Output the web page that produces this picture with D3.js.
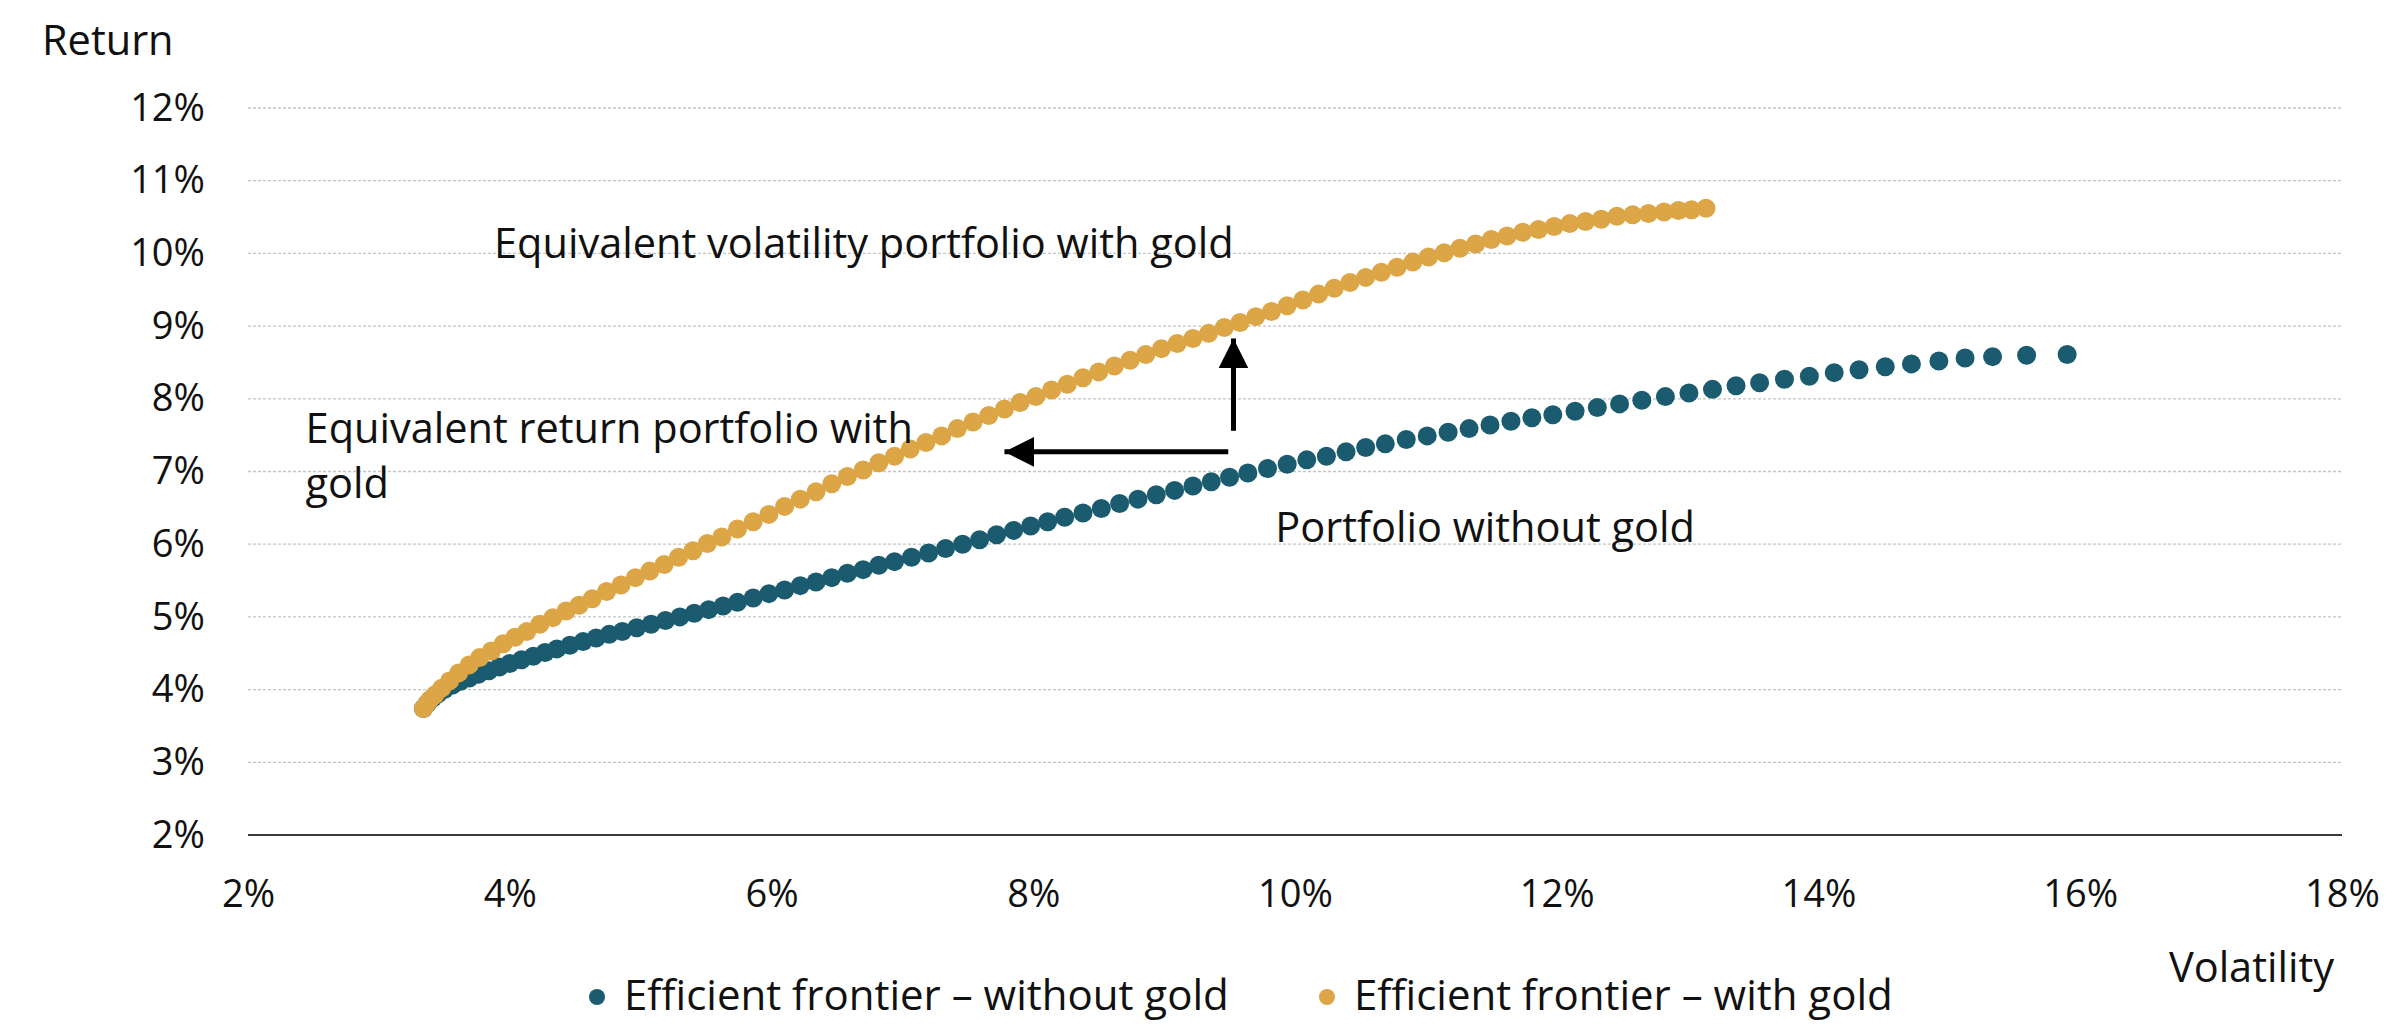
<!DOCTYPE html>
<html>
<head>
<meta charset="utf-8">
<script src="https://cdn.jsdelivr.net/npm/d3@7"></script>
<style>
  html, body { margin: 0; padding: 0; background: #ffffff; }
  svg { display: block; }
  text { font-family: "Open Sans", "Noto Sans", sans-serif; fill: #111; }
</style>
</head>
<body>
<svg id="chart" width="2387" height="1025"></svg>
<script>
// ---------------- DATA ----------------
const yTicks = [2, 3, 4, 5, 6, 7, 8, 9, 10, 11, 12];
const xTicks = [2, 4, 6, 8, 10, 12, 14, 16, 18];

const seriesNames = ["Efficient frontier \u2013 without gold", "Efficient frontier \u2013 with gold"];

// Efficient frontier without gold (volatility %, return %)
const volWithout = [3.34,3.37,3.41,3.45,3.50,3.56,3.62,3.69,3.76,3.84,3.92,4.00,4.09,4.18,4.27,4.36,4.46,4.56,4.66,4.76,4.86,4.97,5.08,5.19,5.30,5.41,5.52,5.63,5.74,5.86,5.98,6.10,6.22,6.34,6.46,6.58,6.70,6.82,6.94,7.07,7.20,7.33,7.46,7.59,7.72,7.85,7.98,8.11,8.24,8.38,8.52,8.66,8.80,8.94,9.08,9.22,9.36,9.50,9.64,9.79,9.94,10.09,10.24,10.39,10.54,10.69,10.85,11.01,11.17,11.33,11.49,11.65,11.81,11.97,12.14,12.31,12.48,12.65,12.83,13.01,13.19,13.37,13.55,13.74,13.93,14.12,14.31,14.51,14.71,14.92,15.12,15.33,15.59,15.90];
const retWithout = [3.74,3.81,3.88,3.94,4.00,4.06,4.11,4.16,4.21,4.26,4.31,4.36,4.41,4.46,4.51,4.56,4.61,4.66,4.71,4.76,4.80,4.85,4.90,4.95,5.00,5.05,5.10,5.15,5.20,5.26,5.32,5.37,5.43,5.48,5.54,5.60,5.65,5.71,5.76,5.82,5.88,5.94,6.00,6.06,6.13,6.19,6.25,6.31,6.37,6.43,6.49,6.56,6.62,6.68,6.74,6.80,6.86,6.92,6.98,7.04,7.10,7.16,7.21,7.27,7.33,7.38,7.44,7.49,7.54,7.59,7.64,7.69,7.74,7.78,7.83,7.88,7.93,7.98,8.03,8.08,8.13,8.18,8.22,8.27,8.31,8.36,8.40,8.44,8.48,8.52,8.56,8.58,8.60,8.61];

// Efficient frontier with gold (volatility %, return %)
const volWith = [3.34,3.36,3.39,3.43,3.48,3.54,3.61,3.69,3.77,3.86,3.95,4.04,4.13,4.23,4.33,4.43,4.53,4.63,4.74,4.85,4.96,5.07,5.18,5.29,5.40,5.51,5.62,5.74,5.86,5.98,6.10,6.22,6.34,6.46,6.58,6.70,6.82,6.94,7.06,7.18,7.30,7.42,7.54,7.66,7.78,7.90,8.02,8.14,8.26,8.38,8.50,8.62,8.74,8.86,8.98,9.10,9.22,9.34,9.46,9.58,9.70,9.82,9.94,10.06,10.18,10.30,10.42,10.54,10.66,10.78,10.90,11.02,11.14,11.26,11.38,11.50,11.62,11.74,11.86,11.98,12.10,12.22,12.34,12.46,12.58,12.70,12.82,12.93,13.03,13.14];
const retWith = [3.74,3.79,3.86,3.93,4.02,4.12,4.23,4.34,4.44,4.53,4.63,4.72,4.80,4.90,4.99,5.08,5.16,5.25,5.35,5.44,5.54,5.63,5.72,5.82,5.91,6.01,6.10,6.21,6.31,6.41,6.52,6.62,6.72,6.83,6.93,7.02,7.12,7.21,7.31,7.40,7.49,7.59,7.68,7.77,7.86,7.95,8.03,8.12,8.20,8.29,8.37,8.45,8.53,8.61,8.69,8.76,8.83,8.90,8.98,9.05,9.13,9.20,9.28,9.36,9.44,9.52,9.60,9.67,9.74,9.81,9.88,9.95,10.01,10.07,10.13,10.19,10.24,10.29,10.33,10.37,10.41,10.44,10.47,10.51,10.53,10.55,10.57,10.59,10.60,10.62];

// Annotations (data units: volatility %, return %)
const annotTexts = ["Equivalent volatility portfolio with gold", "Equivalent return portfolio with", "gold", "Portfolio without gold"];
const annotPos = [[3.88, 9.94], [2.44, 7.39], [2.44, 6.64], [9.85, 6.03]];
// arrows: [x1, y1, x2, y2] from tail to tip
const arrows = [[9.53, 7.56, 9.53, 8.83], [9.49, 7.27, 7.78, 7.27]];

// ---------------- LAYOUT ----------------
const mLeft = 248, mRight = 2342, mTop = 108, mBottom = 835;
const colors = ["#1a5b70", "#dca546"];
const tickFont = 38;
const textFont = 41.5;
const legendFont = 42;

const svg = d3.select("#chart");

const x = d3.scaleLinear().domain([2, 18]).range([mLeft, mRight]);
const y = d3.scaleLinear().domain([2, 12]).range([mBottom, mTop]);

// gridlines
svg.append("g").selectAll("line")
  .data(yTicks.filter(d => d !== 2))
  .join("line")
  .attr("x1", mLeft).attr("x2", mRight)
  .attr("y1", d => y(d)).attr("y2", d => y(d))
  .attr("stroke", "#c4c4c4")
  .attr("stroke-width", 1.3)
  .attr("stroke-dasharray", "3,2");

// y axis labels
const yAxis = svg.append("g")
  .attr("transform", `translate(${mLeft},0)`)
  .call(d3.axisLeft(y).tickValues(yTicks).tickSize(0).tickPadding(43).tickFormat(d => d + "%"));
yAxis.select(".domain").remove();
yAxis.selectAll("text").attr("font-size", tickFont).attr("font-family", "Open Sans").attr("fill", "#111");

// x axis labels
const xAxis = svg.append("g")
  .attr("transform", `translate(0,${mBottom})`)
  .call(d3.axisBottom(x).tickValues(xTicks).tickSize(0).tickPadding(45).tickFormat(d => d + "%"));
xAxis.select(".domain").remove();
xAxis.selectAll("text").attr("font-size", tickFont).attr("font-family", "Open Sans").attr("fill", "#111");

// baseline
svg.append("line")
  .attr("x1", mLeft).attr("x2", mRight)
  .attr("y1", y(2)).attr("y2", y(2))
  .attr("stroke", "#3a3a3a").attr("stroke-width", 2);

// axis titles
svg.append("text").attr("x", 42).attr("y", 55).attr("font-size", textFont).text("Return");
svg.append("text").attr("x", 2334).attr("y", 982).attr("text-anchor", "end").attr("font-size", textFont).text("Volatility");

// series
const series = [
  volWithout.map((v, i) => ({ v, r: retWithout[i] })),
  volWith.map((v, i) => ({ v, r: retWith[i] }))
];
series.forEach((pts, s) => {
  svg.append("g").selectAll("circle")
    .data(pts)
    .join("circle")
    .attr("cx", d => x(d.v))
    .attr("cy", d => y(d.r))
    .attr("r", 9.5)
    .attr("fill", colors[s]);
});

// annotations text
svg.append("g").selectAll("text")
  .data(annotTexts)
  .join("text")
  .attr("x", (d, i) => x(annotPos[i][0]))
  .attr("y", (d, i) => y(annotPos[i][1]))
  .attr("font-size", textFont)
  .text(d => d);

// arrows
svg.append("defs").append("marker")
  .attr("id", "arrowhead")
  .attr("viewBox", "0 0 10 10")
  .attr("refX", 10).attr("refY", 5)
  .attr("markerWidth", 6).attr("markerHeight", 6)
  .attr("markerUnits", "strokeWidth")
  .attr("orient", "auto")
  .append("path").attr("d", "M0,0 L10,5 L0,10 Z").attr("fill", "#000");

svg.append("g").selectAll("line")
  .data(arrows)
  .join("line")
  .attr("x1", d => x(d[0])).attr("y1", d => y(d[1]))
  .attr("x2", d => x(d[2])).attr("y2", d => y(d[3]))
  .attr("stroke", "#000").attr("stroke-width", 5)
  .attr("marker-end", "url(#arrowhead)");

// legend
const legendX = [597, 1327];
const lg = svg.append("g").selectAll("g")
  .data(seriesNames)
  .join("g")
  .attr("transform", (d, i) => `translate(${legendX[i]},997)`);
lg.append("circle").attr("r", 8).attr("fill", (d, i) => colors[i]);
lg.append("text").attr("x", 27).attr("y", 13).attr("font-size", legendFont).text(d => d);
</script>
</body>
</html>
